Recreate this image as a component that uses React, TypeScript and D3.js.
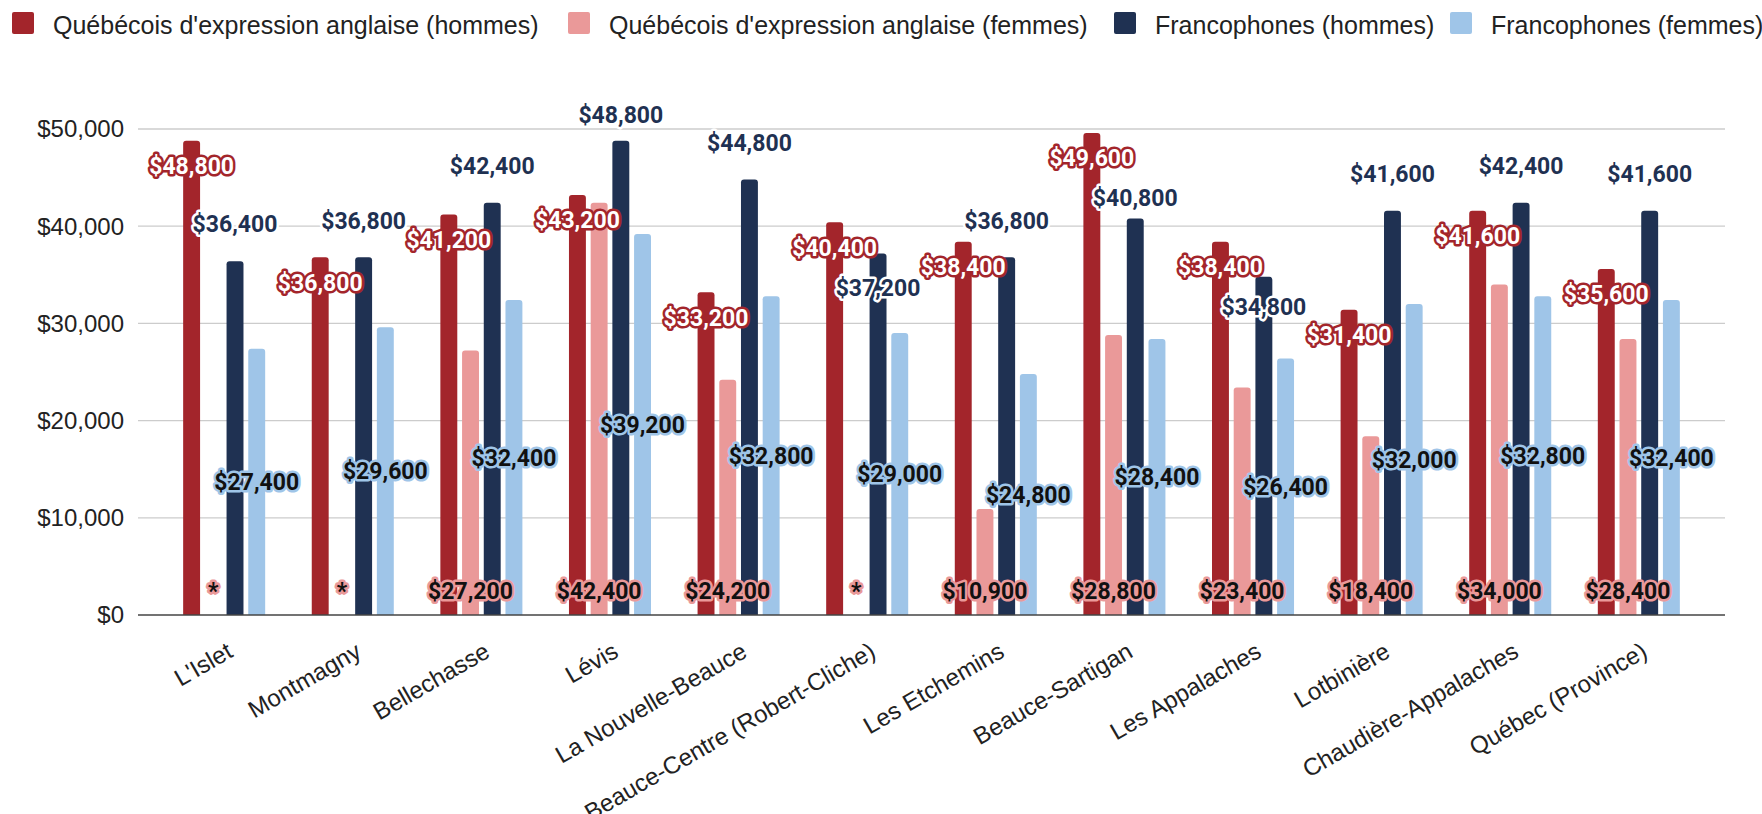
import React, { useEffect, useRef } from 'react';
import * as d3 from 'd3';

const categories = [
  "L'Islet",
  'Montmagny',
  'Bellechasse',
  'Lévis',
  'La Nouvelle-Beauce',
  'Beauce-Centre (Robert-Cliche)',
  'Les Etchemins',
  'Beauce-Sartigan',
  'Les Appalaches',
  'Lotbinière',
  'Chaudière-Appalaches',
  'Québec (Province)',
];

const seriesNames = [
  "Québécois d'expression anglaise (hommes)",
  "Québécois d'expression anglaise (femmes)",
  'Francophones (hommes)',
  'Francophones (femmes)',
];

const angloMen = [48800, 36800, 41200, 43200, 33200, 40400, 38400, 49600, 38400, 31400, 41600, 35600];
const angloWomen: (number | null)[] = [null, null, 27200, 42400, 24200, null, 10900, 28800, 23400, 18400, 34000, 28400];
const francoMen = [36400, 36800, 42400, 48800, 44800, 37200, 36800, 40800, 34800, 41600, 42400, 41600];
const francoWomen = [27400, 29600, 32400, 39200, 32800, 29000, 24800, 28400, 26400, 32000, 32800, 32400];

const yTicks = [0, 10000, 20000, 30000, 40000, 50000];

const colors = ['#a3252b', '#ea9999', '#1f3152', '#9fc5e8'];

function barPath(x: number, y: number, w: number, h: number, r: number) {
  r = Math.min(r, h / 2, w / 2);
  return `M${x},${y + h}V${y + r}Q${x},${y} ${x + r},${y}H${x + w - r}Q${x + w},${y} ${x + w},${y + r}V${y + h}Z`;
}

export default function App() {
  const ref = useRef<SVGSVGElement | null>(null);

  useEffect(() => {
    const W = 1762;
    const H = 814;
    const left = 138;
    const right = 1725;
    const svg = d3.select(ref.current);
    svg.selectAll('*').remove();
    svg.attr('width', W).attr('height', H);

    const values = [angloMen, angloWomen, francoMen, francoWomen];

    const y = d3.scaleLinear().domain([0, 50000]).range([615, 129]);
    const x0 = d3.scaleBand<string>().domain(categories).range([left, right]).paddingOuter(0.17).paddingInner(0);
    const bw = x0.bandwidth();
    const gw = bw * 0.675;
    const x1 = d3.scaleBand<string>().domain(seriesNames)
      .range([(bw - gw) / 2, (bw + gw) / 2]).paddingInner(0.22).paddingOuter(0.11);

    const fmt = (v: number) => '$' + d3.format(',')(v);

    // gridlines
    svg.append('g')
      .selectAll('line')
      .data(yTicks.filter(t => t > 0))
      .enter()
      .append('line')
      .attr('x1', left).attr('x2', right)
      .attr('y1', d => y(d)).attr('y2', d => y(d))
      .attr('stroke', '#cccccc').attr('stroke-width', 1.3);

    // y tick labels
    svg.append('g')
      .selectAll('text')
      .data(yTicks)
      .enter()
      .append('text')
      .attr('x', 124)
      .attr('y', d => y(d))
      .attr('dy', '0.35em')
      .attr('text-anchor', 'end')
      .attr('font-family', 'Liberation Sans, Arial, sans-serif')
      .attr('font-size', 24)
      .attr('fill', '#222')
      .text(d => fmt(d));

    // bars
    const bars = svg.append('g');
    categories.forEach((c, i) => {
      seriesNames.forEach((s, k) => {
        const v = values[k][i];
        if (v == null) return;
        const bx = (x0(c) as number) + (x1(s) as number);
        bars.append('path')
          .attr('d', barPath(bx, y(v), x1.bandwidth(), y(0) - y(v), 3))
          .attr('fill', colors[k]);
      });
    });

    // baseline
    svg.append('line')
      .attr('x1', left).attr('x2', right)
      .attr('y1', y(0)).attr('y2', y(0))
      .attr('stroke', '#444').attr('stroke-width', 1.6);

    // data labels
    const labels = svg.append('g')
      .attr('font-family', 'Roboto, sans-serif')
      .attr('font-weight', 700)
      .attr('font-size', 23)
      .attr('text-anchor', 'middle')
      .attr('stroke-linejoin', 'round')
      .attr('paint-order', 'stroke');

    const addLabel = (cx: number, cy: number, txt: string, fill: string, halo: string) => {
      labels.append('text')
        .attr('x', cx)
        .attr('y', cy)
        .attr('dy', '0.36em')
        .attr('fill', fill)
        .attr('stroke', halo)
        .attr('stroke-width', 5)
        .text(txt);
    };

    categories.forEach((c, i) => {
      const cx = (k: number) => (x0(c) as number) + (x1(seriesNames[k]) as number) + x1.bandwidth() / 2;

      // anglo men: inside end
      const redY = y(angloMen[i]) + 25;
      addLabel(cx(0), redY, fmt(angloMen[i]), '#ffffff', colors[0]);

      // anglo women: inside base, '*' when missing
      const w = angloWomen[i];
      addLabel(cx(1), y(0) - 24, w == null ? '*' : fmt(w), '#111', colors[1]);

      // franco men: outside end, pushed below red label when they collide
      let navyY = y(francoMen[i]) - 37;
      if (Math.abs(navyY - redY) < 32) navyY = redY + 40;
      navyY = Math.max(navyY, 115);
      addLabel(cx(2), navyY, fmt(francoMen[i]), colors[2], '#ffffff');

      // franco women: center
      addLabel(cx(3), y(francoWomen[i] / 2), fmt(francoWomen[i]), '#111', colors[3]);
    });

    // x axis labels
    svg.append('g')
      .selectAll('text')
      .data(categories)
      .enter()
      .append('text')
      .attr('transform', d => `translate(${(x0(d) as number) + bw / 2 + 10},${656}) rotate(-30)`)
      .attr('text-anchor', 'end')
      .attr('font-family', 'Liberation Sans, Arial, sans-serif')
      .attr('font-size', 24)
      .attr('fill', '#222')
      .text(d => d);

    // legend
    const legendX = [12, 568, 1114, 1450];
    const legend = svg.append('g');
    seriesNames.forEach((s, k) => {
      legend.append('rect')
        .attr('x', legendX[k]).attr('y', 12)
        .attr('width', 22).attr('height', 22)
        .attr('rx', 2)
        .attr('fill', colors[k]);
      legend.append('text')
        .attr('x', legendX[k] + 41)
        .attr('y', 25)
        .attr('dy', '0.35em')
        .attr('font-family', 'Liberation Sans, Arial, sans-serif')
        .attr('font-size', 25)
        .attr('fill', '#222')
        .text(s);
    });

    return () => {
      d3.select(ref.current).selectAll('*').remove();
    };
  }, []);

  return (
    <svg ref={ref} style={{ position: 'absolute', left: 0, top: 0, background: '#fff' }} />
  );
}
